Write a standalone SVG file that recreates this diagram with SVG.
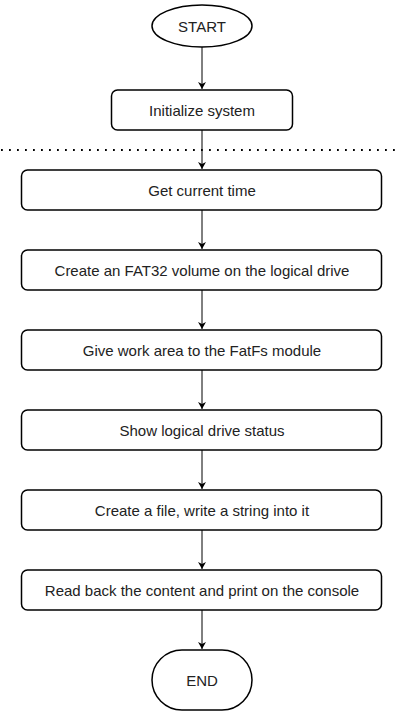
<svg xmlns="http://www.w3.org/2000/svg" width="404" height="712" viewBox="0 0 404 712">
<defs>
<marker id="ah" markerWidth="10" markerHeight="10" refX="7" refY="4" orient="auto" markerUnits="userSpaceOnUse">
<path d="M0,0 L7,4 L0,8 L2,4 Z" fill="#000"/>
</marker>
<style>
.box{fill:#fff;stroke:#000;stroke-width:1.5}
.t{font-family:"Liberation Sans",Arial,sans-serif;font-size:15px;fill:#222;text-anchor:middle;dominant-baseline:central}
.c{stroke:#000;stroke-width:1;fill:none;marker-end:url(#ah)}
</style>
</defs>
<rect width="404" height="712" fill="#fff"/>
<line x1="1" y1="150" x2="400" y2="150" stroke="#000" stroke-width="1.8" stroke-dasharray="1.8,6.2"/>
<g id="connectors">
<line class="c" x1="202" y1="47" x2="202" y2="89"/>
<line class="c" x1="202" y1="130" x2="202" y2="169"/>
<line class="c" x1="202" y1="210" x2="202" y2="249"/>
<line class="c" x1="202" y1="290" x2="202" y2="329"/>
<line class="c" x1="202" y1="370" x2="202" y2="409"/>
<line class="c" x1="202" y1="450" x2="202" y2="489"/>
<line class="c" x1="202" y1="530" x2="202" y2="569"/>
<line class="c" x1="202" y1="610" x2="202" y2="649"/>
</g>
<g id="start"><ellipse class="box" cx="202" cy="26" rx="50" ry="21"/><text class="t" x="202" y="26">START</text></g>
<g id="init"><rect class="box" x="111.5" y="90" width="181" height="40" rx="6"/><text class="t" x="202" y="110">Initialize system</text></g>
<g id="time"><rect class="box" x="21.5" y="170" width="360" height="40" rx="6"/><text class="t" x="202" y="190">Get current time</text></g>
<g id="fat32"><rect class="box" x="21.5" y="250" width="360" height="40" rx="6"/><text class="t" x="202" y="270">Create an FAT32 volume on the logical drive</text></g>
<g id="workarea"><rect class="box" x="21.5" y="330" width="360" height="40" rx="6"/><text class="t" x="202" y="350">Give work area to the FatFs module</text></g>
<g id="status"><rect class="box" x="21.5" y="410" width="360" height="40" rx="6"/><text class="t" x="202" y="430">Show logical drive status</text></g>
<g id="file"><rect class="box" x="21.5" y="490" width="360" height="40" rx="6"/><text class="t" x="202" y="510">Create a file, write a string into it</text></g>
<g id="readback"><rect class="box" x="21.5" y="570" width="360" height="40" rx="6"/><text class="t" x="202" y="590">Read back the content and print on the console</text></g>
<g id="end"><rect class="box" x="152" y="650" width="100" height="60" rx="30"/><text class="t" x="202" y="680">END</text></g>
</svg>
